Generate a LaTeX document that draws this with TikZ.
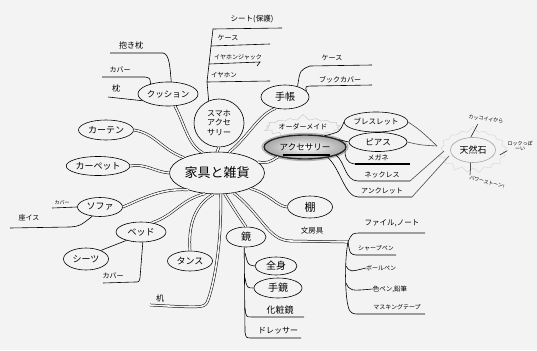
\documentclass[tikz,border=0pt]{standalone}
\usepackage{fontspec}
\setmainfont{Noto Sans CJK JP}
\usetikzlibrary{shapes.geometric,shapes.symbols}
\definecolor{bg}{HTML}{F3F3F3}
\begin{document}
\begin{tikzpicture}[x=1pt,y=-1pt,
  bub/.style={ellipse,draw,line width=0.6pt,inner sep=0pt,font=\fontsize{9}{9}\selectfont},
  txt/.style={inner sep=0pt,font=\fontsize{7}{7}\selectfont},
  tiny/.style={inner sep=0pt,font=\fontsize{5}{5}\selectfont},
  br/.style={draw=black,line width=0.5pt,double=bg,double distance=1.6pt},
  ln/.style={draw=black,line width=0.6pt},
  faint/.style={starburst,draw=gray!40,line width=0.5pt,inner sep=0pt,starburst point height=6pt,random starburst=7}
]
\fill[bg] (0,0) rectangle (537,350);
\useasboundingbox (0,0) rectangle (537,350);

% ---------- nodes ----------
\node[bub,minimum width=95pt,minimum height=42pt,font=\fontsize{13}{13}\selectfont] (c) at (217,173) {家具と雑貨};

\node[bub,minimum width=57pt,minimum height=24pt,font=\fontsize{8.5}{8.5}\selectfont] (cush) at (168,94) {クッション};
\node[bub,minimum width=50pt,minimum height=48pt,align=center,font=\fontsize{8}{9.5}\selectfont] (sumaho) at (219,123) {スマホ\\アクセ\\サリー};
\node[bub,minimum width=48pt,minimum height=24pt,font=\fontsize{10}{10}\selectfont] (techo) at (285,97) {手帳};

\node[faint,minimum width=78pt,minimum height=26pt,font=\fontsize{7}{7}\selectfont] (order) at (303,127) {オーダーメイド};
\node[ellipse,draw=gray!60,line width=1.2pt,minimum width=86pt,minimum height=27pt,inner sep=0pt] (accring) at (305,147) {};
\node[bub,minimum width=82pt,minimum height=24pt,draw=black!85,line width=1.4pt,shading=radial,inner color=white,outer color=gray!70,font=\fontsize{8.5}{8.5}\selectfont] (acc) at (305,147) {アクセサリー};

\node[bub,minimum width=60pt,minimum height=20pt,font=\fontsize{7.5}{7.5}\selectfont] (brace) at (376,122) {ブレスレット};
\node[bub,minimum width=58pt,minimum height=19pt,font=\fontsize{8.5}{8.5}\selectfont] (piasu) at (378,142) {ピアス};
\node[txt] (megane) at (378,158) {メガネ};
\node[txt] (neck) at (382,175) {ネックレス};
\node[txt] (ankle) at (382,191) {アンクレット};

\node[faint,draw=gray!30,minimum width=72pt,minimum height=48pt] (tenglow) at (473,150) {};
\node[bub,draw=gray!70,minimum width=45pt,minimum height=25pt,font=\fontsize{9}{9}\selectfont] (ten) at (473,150) {天然石};
\node[tiny,rotate=-8] (cool) at (486,119) {カッコイイから};
\node[tiny,align=center] (rock) at (520,146) {ロックっぽ\\ーい};
\node[tiny,rotate=-15] (power) at (487,182) {パワーストーン!};

\node[bub,minimum width=55pt,minimum height=20pt] (curtain) at (106,130) {カーテン};
\node[bub,minimum width=60pt,minimum height=19pt] (carpet) at (98,166) {カーペット};
\node[bub,minimum width=45pt,minimum height=19pt] (sofa) at (100,207) {ソファ};
\node[bub,minimum width=50pt,minimum height=20pt] (bed) at (141,232) {ベッド};
\node[bub,minimum width=45pt,minimum height=22pt] (sheets) at (86,259) {シーツ};
\node[bub,minimum width=45pt,minimum height=20pt] (tansu) at (190,261) {タンス};
\node[bub,minimum width=40pt,minimum height=20pt,font=\fontsize{10}{10}\selectfont] (mirror) at (246,237) {鏡};
\node[bub,minimum width=42pt,minimum height=18pt,font=\fontsize{10}{10}\selectfont] (zenshin) at (276,266) {全身};
\node[bub,minimum width=48pt,minimum height=20pt,font=\fontsize{10}{10}\selectfont] (tekagami) at (278,288) {手鏡};
\node[bub,minimum width=45pt,minimum height=22pt,font=\fontsize{11}{11}\selectfont] (shelf) at (310,207) {棚};

\node[txt,font=\fontsize{8}{8}\selectfont] (daki) at (131,45) {抱き枕};
\node[txt] (cov1) at (120,70) {カバー};
\node[txt,font=\fontsize{8}{8}\selectfont] (makura) at (116,88) {枕};
\node[txt,font=\fontsize{7.5}{7.5}\selectfont] (seat) at (252,19) {シート(保護)};
\node[txt] (case1) at (228,38) {ケース};
\node[txt,font=\fontsize{6}{6}\selectfont] (jack) at (238,57) {イヤホンジャック};
\node[txt,font=\fontsize{6.5}{6.5}\selectfont] (earph) at (224,75) {イヤホン};
\node[txt] (case2) at (332,58) {ケース};
\node[txt] (bookc) at (340,80) {ブックカバー};

\node[tiny] (cov2) at (62,203) {カバー};
\node[txt] (zaisu) at (29,218) {座イス};
\node[txt] (cov3) at (113,276) {カバー};
\node[txt,font=\fontsize{8}{8}\selectfont] (desk) at (160,298) {机};
\node[txt,font=\fontsize{9}{9}\selectfont] (keshou) at (280,310) {化粧鏡};
\node[txt,font=\fontsize{8}{8}\selectfont] (dresser) at (278,331) {ドレッサー};

\node[txt,font=\fontsize{7.5}{7.5}\selectfont] (bunbo) at (312,231) {文房具};
\node[txt,font=\fontsize{7.5}{7.5}\selectfont] (file) at (392,223) {ファイル,ノート};
\node[txt,font=\fontsize{6}{6}\selectfont] (sharp) at (376,248) {シャープペン};
\node[txt,font=\fontsize{6}{6}\selectfont] (ball) at (381,268) {ボールペン};
\node[txt,font=\fontsize{6.5}{6.5}\selectfont] (iro) at (390,289) {色ペン,鉛筆};
\node[txt,font=\fontsize{6}{6}\selectfont] (mask) at (397,307) {マスキングテープ};

% ---------- coordinates ----------
\coordinate (dakiL) at (110,53);
\coordinate (cov1L) at (102,77);
\coordinate (makL) at (108,97);
\coordinate (s1) at (207,82);
\coordinate (s2) at (209,64);
\coordinate (s3) at (211,46);
\coordinate (s4) at (213,29);
\coordinate (earR) at (270,81);
\coordinate (jackR) at (260,62);
\coordinate (case1R) at (270,44);
\coordinate (seatR) at (282,28);
\coordinate (case2R) at (372,65);
\coordinate (bookR) at (372,85);
\coordinate (megR) at (410,164);
\coordinate (neckR) at (410,181);
\coordinate (ankR) at (412,197);
\coordinate (tenIn) at (437,146);
\coordinate (tenIn2) at (444,151);
\coordinate (tenIn3) at (449,156);
\coordinate (cov2L) at (52,208);
\coordinate (zaiL) at (10,228);
\coordinate (cov3L) at (103,283);
\coordinate (deskL) at (150,305);
\coordinate (keshR) at (304,317);
\coordinate (dresR) at (301,338);
\coordinate (j) at (348,242);
\coordinate (fileR) at (425,233);
\coordinate (sharpR) at (396,255);
\coordinate (maskR) at (425,314);

% ---------- main branches ----------
\draw[br] (cush.-60) .. controls (185,125) and (188,145) .. (c.125);
\draw[br] (sumaho.south) -- (c.north);
\draw[br] (c.60) .. controls (250,135) and (258,115) .. (techo.-130);
\draw[br] (c.15) .. controls (268,163) .. (acc.200);
\draw[br] (curtain.east) .. controls (155,133) and (162,150) .. (c.155);
\draw[br] (carpet.east) .. controls (145,163) and (155,172) .. (c.180);
\draw[br] (sofa.east) .. controls (140,200) and (160,188) .. (c.210);
\draw[br] (bed.40) .. controls (175,215) and (180,200) .. (c.240);
\draw[br] (tansu.north) .. controls (188,225) and (195,205) .. (c.260);
\draw[br] (c.280) .. controls (222,250) and (212,290) .. (208,300) .. controls (205,308) .. (deskL);
\draw[br] (c.290) .. controls (236,212) .. (mirror.north);
\draw[br] (c.335) .. controls (272,195) and (276,206) .. (shelf.west);
\draw[br] (c.310) .. controls (262,215) and (268,240) .. (290,241) -- (j);

% ---------- sub branches ----------
\draw[ln] (dakiL) -- (163,53) .. controls (170,54) and (170,70) .. (cush.75);
\draw[ln] (cov1L) -- (145,77) .. controls (150,78) .. (cush.150);
\draw[ln] (makL) -- (cush.195);

\draw[ln] (sumaho.115) -- (s1) -- (earR);
\draw[ln] (s1) -- (s2) -- (jackR) -- (257,66);
\draw[ln] (s2) -- (s3) -- (case1R);
\draw[ln] (s3) -- (s4) -- (seatR);

\draw[ln] (techo.40) .. controls (300,70) .. (310,66) -- (case2R);
\draw[ln] (techo.15) .. controls (305,86) .. (315,86) -- (bookR);

\draw[line width=1.2pt] (283,155) -- (330,155);
\draw[ln] (acc.30) .. controls (340,132) .. (brace.west);
\draw[ln] (acc.12) -- (piasu.west);
\draw[ln] (acc.-5) .. controls (345,155) and (345,163) .. (355,164);
\draw[line width=1.4pt] (355,164) -- (megR);
\draw[ln] (acc.-15) .. controls (345,162) and (345,181) .. (358,181) -- (neckR);
\draw[ln] (acc.-25) .. controls (340,168) and (345,197) .. (358,197) -- (ankR);
\draw[ln,draw=black!70] (brace.east) .. controls (420,130) .. (tenIn);
\draw[ln,draw=black!70] (piasu.east) .. controls (420,145) .. (tenIn);
\draw[ln,draw=black!70] (neckR) -- (tenIn2);
\draw[ln,draw=black!70] (ankR) -- (tenIn3);
\draw[line width=0.5pt] (cool.south) ++(-8,3) -- (ten.100);
\draw[line width=0.5pt] (ten.east) ++(4,5) -- (rock.200);
\draw[line width=0.5pt] (ten.-100) -- (power.north west);

\draw[ln] (cov2L) -- (sofa.west);
\draw[ln] (zaiL) -- (70,227) .. controls (80,226) .. (sofa.-130);
\draw[ln] (sheets.30) -- (bed.210);
\draw[ln] (bed.-80) -- (140,278) .. controls (139,282) .. (135,282) -- (cov3L);

\draw[ln] (mirror.-100) -- (245,332) .. controls (246,338) .. (252,338) -- (dresR);
\draw[ln] (245,253) .. controls (248,265) .. (zenshin.west);
\draw[ln] (245,278) .. controls (247,288) .. (tekagami.west);
\draw[ln] (245,308) .. controls (246,317) .. (252,317) -- (keshR);

\draw[ln] (j) .. controls (352,233) .. (362,233) -- (fileR);
\draw[ln] (j) .. controls (350,254) .. (356,255) -- (sharpR);
\draw[ln] (j) .. controls (344,262) and (345,305) .. (350,311) .. controls (353,314) .. (360,314) -- (maskR);
\draw[ln] (346,266) .. controls (350,272) .. (ball.west);
\draw[ln] (346,283) .. controls (350,291) .. (iro.west);
\end{tikzpicture}
\end{document}
